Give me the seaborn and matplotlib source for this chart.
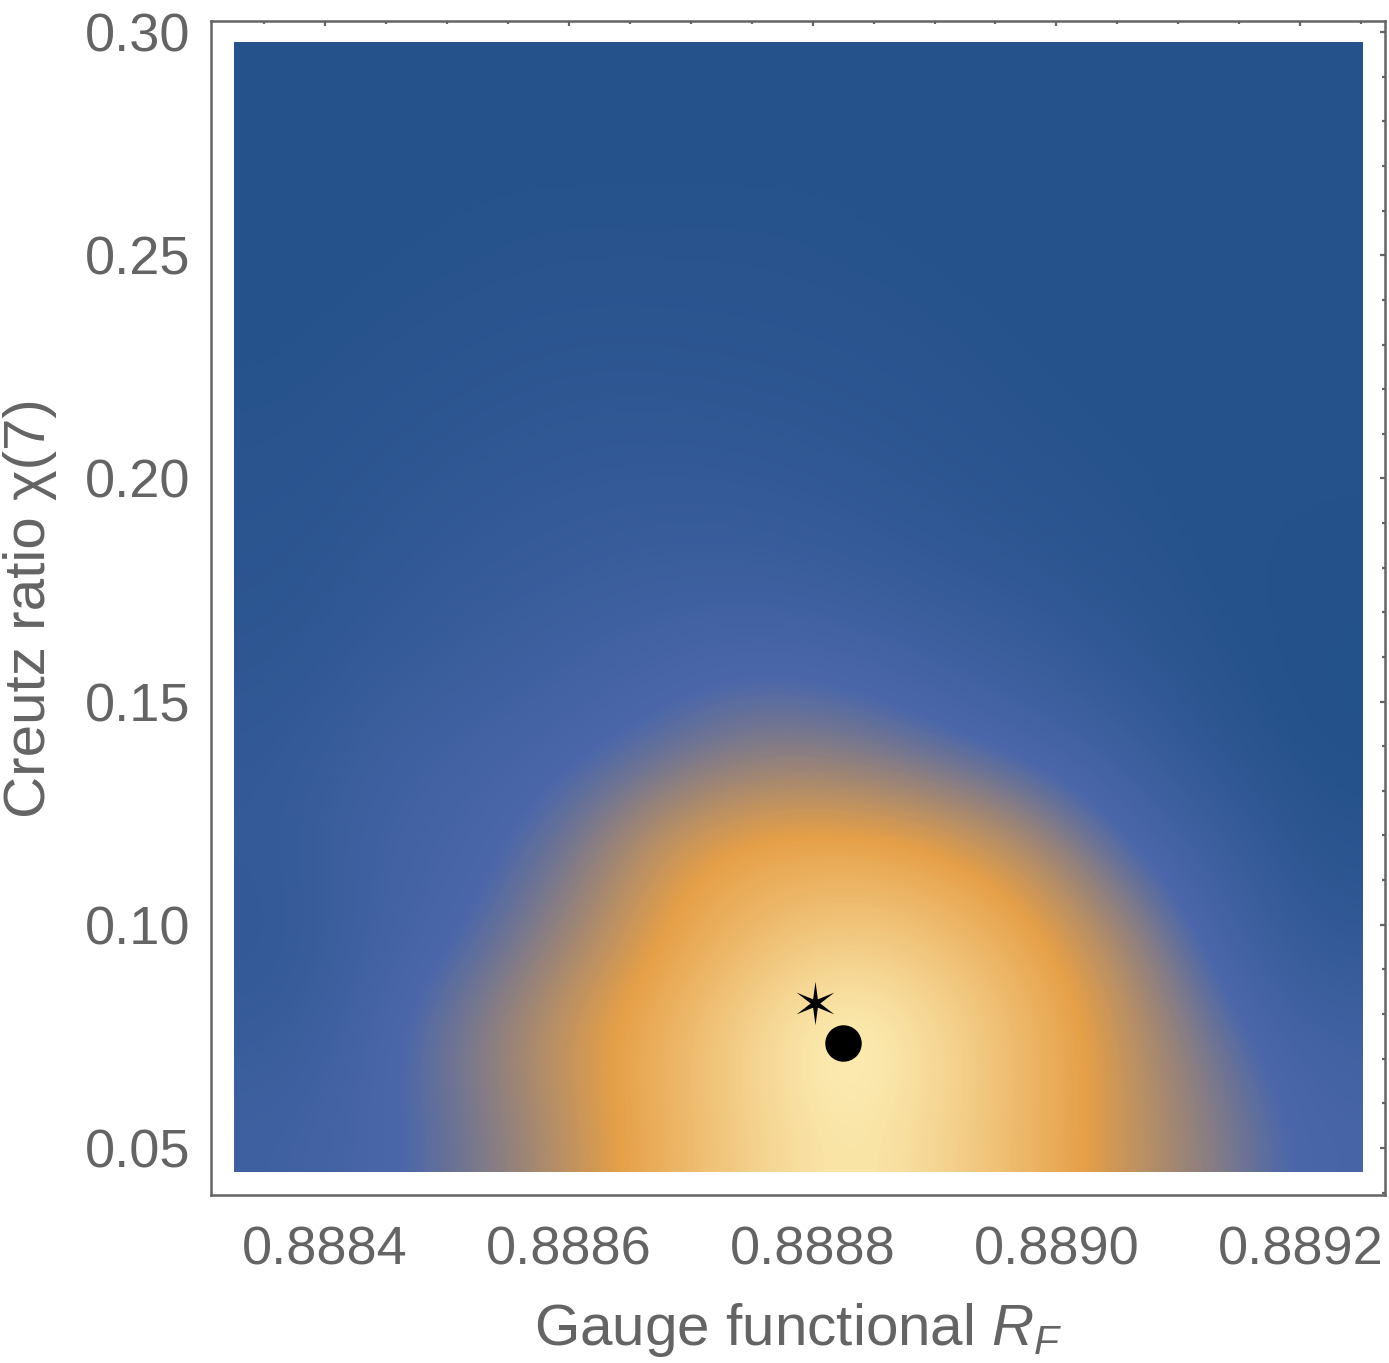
import numpy as np
import matplotlib
matplotlib.use("Agg")
import matplotlib.pyplot as plt
import seaborn as sns
from matplotlib.colors import LinearSegmentedColormap
from matplotlib.path import Path
from matplotlib.ticker import MultipleLocator, FormatStrFormatter

# ---- data -------------------------------------------------------------
x_range = [0.888325, 0.889251]      # gauge functional R_F extent of density
y_range = [0.0445, 0.2975]          # Creutz ratio chi(7) extent of density

# density level (0..1); rows top -> bottom, columns left -> right
density = np.array([
    [0.07, 0.07, 0.07, 0.07, 0.07, 0.07, 0.07, 0.07, 0.07, 0.07, 0.07, 0.07],
    [0.07, 0.07, 0.08, 0.08, 0.08, 0.08, 0.08, 0.07, 0.07, 0.07, 0.07, 0.07],
    [0.07, 0.08, 0.09, 0.10, 0.10, 0.10, 0.09, 0.08, 0.07, 0.07, 0.07, 0.07],
    [0.08, 0.10, 0.12, 0.14, 0.14, 0.13, 0.12, 0.10, 0.08, 0.07, 0.07, 0.07],
    [0.10, 0.13, 0.16, 0.18, 0.19, 0.18, 0.16, 0.13, 0.10, 0.08, 0.07, 0.07],
    [0.12, 0.16, 0.20, 0.23, 0.25, 0.25, 0.22, 0.18, 0.14, 0.10, 0.07, 0.06],
    [0.14, 0.20, 0.25, 0.30, 0.35, 0.38, 0.36, 0.30, 0.24, 0.15, 0.08, 0.05],
    [0.18, 0.28, 0.33, 0.37, 0.43, 0.50, 0.49, 0.43, 0.36, 0.28, 0.13, 0.05],
    [0.20, 0.32, 0.36, 0.46, 0.63, 0.70, 0.71, 0.68, 0.58, 0.40, 0.27, 0.10],
    [0.17, 0.32, 0.40, 0.54, 0.67, 0.78, 0.84, 0.80, 0.71, 0.56, 0.35, 0.17],
    [0.22, 0.37, 0.50, 0.63, 0.74, 0.88, 1.02, 0.90, 0.76, 0.62, 0.45, 0.30],
    [0.30, 0.37, 0.47, 0.60, 0.73, 0.86, 0.96, 0.88, 0.75, 0.62, 0.50, 0.36],
])

star_x = [0.888802]
star_y = [0.0825]
dot_x = [0.888825]
dot_y = [0.0735]

x_ticks = [0.8884, 0.8886, 0.8888, 0.8890, 0.8892]
y_ticks = [0.05, 0.10, 0.15, 0.20, 0.25, 0.30]

# ---- style ------------------------------------------------------------
sns.set_theme(style="white")
plt.rcParams['font.family'] = ['Liberation Sans', 'DejaVu Sans']
plt.rcParams['mathtext.fontset'] = 'custom'
plt.rcParams['mathtext.rm'] = 'Liberation Sans'
plt.rcParams['mathtext.it'] = 'Liberation Sans:italic'

gray = '#646464'

cmap = LinearSegmentedColormap.from_list('m10', [
    (0.00, (30/255, 78/255, 133/255)),
    (0.40, (75/255, 103/255, 170/255)),
    (0.68, (230/255, 160/255, 72/255)),
    (1.00, (255/255, 246/255, 192/255)),
])

fig = plt.figure(figsize=(13.89, 13.63), dpi=100)
ax = fig.add_axes([211/1389, 168/1363, 1174/1389, 1174.3/1363])

ax.imshow(density, extent=[x_range[0], x_range[1], y_range[0], y_range[1]],
          origin='upper', cmap=cmap, vmin=0, vmax=1, interpolation='bicubic',
          aspect='auto', zorder=1)

star_path = Path.unit_regular_star(6, 0.22)
sns.scatterplot(x=star_x, y=star_y, marker=star_path, s=980, color='black',
                linewidth=0, ax=ax, zorder=3)
sns.scatterplot(x=dot_x, y=dot_y, marker='o', s=690, color='black',
                linewidth=0, ax=ax, zorder=3)

pad_x = 0.02 * (x_range[1] - x_range[0])
pad_y = 0.02 * (y_range[1] - y_range[0])
ax.set_xlim(x_range[0] - pad_x, x_range[1] + pad_x)
ax.set_ylim(y_range[0] - pad_y, y_range[1] + pad_y)

ax.set_xticks(x_ticks)
ax.set_yticks(y_ticks)
ax.xaxis.set_major_formatter(FormatStrFormatter('%.4f'))
ax.yaxis.set_major_formatter(FormatStrFormatter('%.2f'))
ax.xaxis.set_minor_locator(MultipleLocator(0.00005))
ax.yaxis.set_minor_locator(MultipleLocator(0.01))

ax.tick_params(which='both', direction='in', top=True, right=True,
               color=gray, labelcolor=gray, width=1.6)
ax.tick_params(which='major', length=3.5, labelsize=39)
ax.tick_params(which='minor', length=2.0)
ax.tick_params(axis='x', which='major', pad=22)
ax.tick_params(axis='y', which='major', pad=15)

for sp in ax.spines.values():
    sp.set_color(gray)
    sp.set_linewidth(1.8)
    sp.set_visible(True)

ax.set_xlabel(r'Gauge functional $R_F$', fontsize=42, color=gray, labelpad=18)
ax.set_ylabel('Creutz ratio χ(7)', fontsize=42, color=gray, labelpad=20)
ax.grid(False)

fig.savefig('out.png', dpi=100)
